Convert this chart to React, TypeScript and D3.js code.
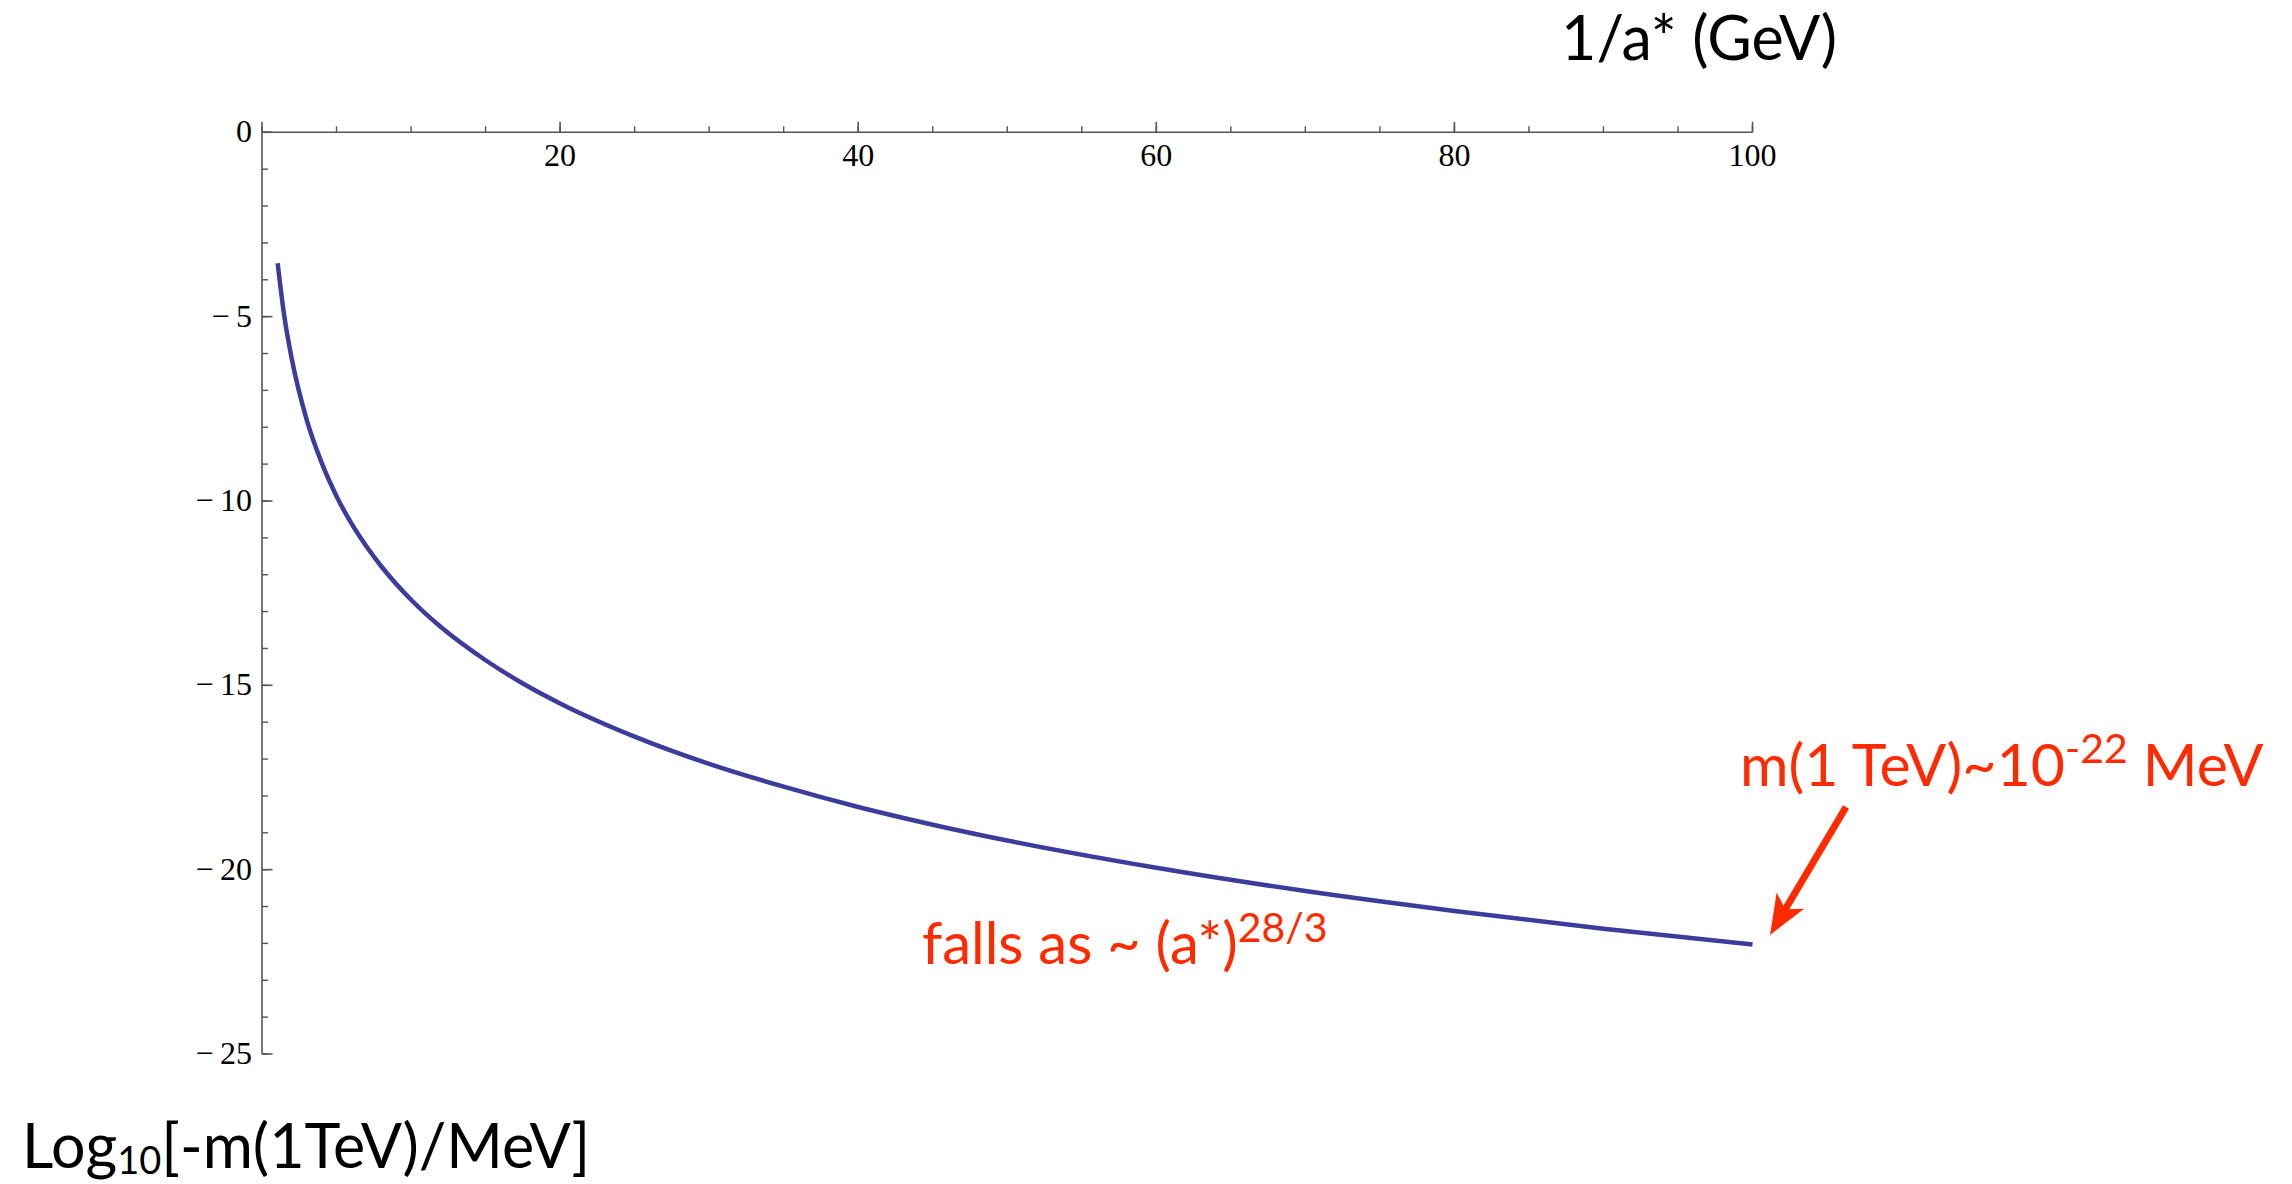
import React from 'react';
import * as d3 from 'd3';

// Curve: x = 1/a* (GeV), y = Log10[-m(1TeV)/MeV]
const xValues = [1.05, 1.5, 2, 3, 4, 5, 6, 7, 8, 10, 12, 15, 17.5, 20, 25, 30, 35, 40, 45, 50, 60, 70, 80, 90, 100];
const yValues = [-3.55, -5.0, -6.15, -7.8, -8.96, -9.87, -10.61, -11.23, -11.77, -12.68, -13.42, -14.32, -14.95, -15.49, -16.39, -17.13, -17.75, -18.3, -18.78, -19.21, -19.95, -20.58, -21.12, -21.6, -22.03];

const xMajorTicks = [0, 20, 40, 60, 80, 100];
const xTickLabels = ['', '20', '40', '60', '80', '100'];
const yMajorTicks = [0, -5, -10, -15, -20, -25];
const yTickLabels = ['0', '\u2212\u20095', '\u2212\u200910', '\u2212\u200915', '\u2212\u200920', '\u2212\u200925'];

const W = 2292;
const H = 1184;

export default function App() {
  const x = d3.scaleLinear().domain([0, 100]).range([262, 1752.5]);
  const y = d3.scaleLinear().domain([0, -25]).range([132.3, 1054]);

  const pts: [number, number][] = xValues.map((v, i) => [v, yValues[i]]);
  const line = d3
    .line<[number, number]>()
    .x((d) => x(d[0]))
    .y((d) => y(d[1]))
    .curve(d3.curveMonotoneX);

  const xMinor = x.ticks(20);
  const yMinor = y.ticks(25);

  const axisColor = '#555';
  const serif = '"Liberation Serif", "Times New Roman", serif';
  const sans = 'Lato, "Noto Sans", sans-serif';
  const red = '#ff2a00';

  // arrow geometry (annotation)
  const ax0 = 1846, ay0 = 807, ax1 = 1770, ay1 = 935;
  const dx = ax1 - ax0, dy = ay1 - ay0;
  const len = Math.hypot(dx, dy);
  const ux = dx / len, uy = dy / len;
  const hl = 40, hw = 16;
  const bx = ax1 - ux * hl, by = ay1 - uy * hl;
  const px = -uy, py = ux;
  const head = `M${ax1},${ay1} L${bx + px * hw},${by + py * hw} L${ax1 - ux * (hl - 10)},${ay1 - uy * (hl - 10)} L${bx - px * hw},${by - py * hw} Z`;

  return (
    <svg
      width={W}
      height={H}
      style={{ position: 'absolute', left: 0, top: 0, background: '#fff' }}
    >
      {/* x axis */}
      <line x1={x(0)} x2={x(100)} y1={y(0)} y2={y(0)} stroke={axisColor} strokeWidth={1.6} />
      {xMinor.map((t) => (
        <line key={'xm' + t} x1={x(t)} x2={x(t)} y1={y(0)} y2={y(0) - 6} stroke={axisColor} strokeWidth={1.4} />
      ))}
      {xMajorTicks.map((t, i) => (
        <g key={'xM' + t}>
          <line x1={x(t)} x2={x(t)} y1={y(0)} y2={y(0) - 10.5} stroke={axisColor} strokeWidth={1.6} />
          <text x={x(t)} y={166} textAnchor="middle" fontFamily={serif} fontSize={32} fill="#000">
            {xTickLabels[i]}
          </text>
        </g>
      ))}

      {/* y axis */}
      <line x1={x(0)} x2={x(0)} y1={y(0)} y2={y(-25)} stroke={axisColor} strokeWidth={1.6} />
      {yMinor.map((t) => (
        <line key={'ym' + t} x1={x(0)} x2={x(0) + 6} y1={y(t)} y2={y(t)} stroke={axisColor} strokeWidth={1.4} />
      ))}
      {yMajorTicks.map((t, i) => (
        <g key={'yM' + t}>
          <line x1={x(0)} x2={x(0) + 10.5} y1={y(t)} y2={y(t)} stroke={axisColor} strokeWidth={1.6} />
          <text x={252} y={y(t) + 10} textAnchor="end" fontFamily={serif} fontSize={32} fill="#000">
            {yTickLabels[i]}
          </text>
        </g>
      ))}

      {/* curve */}
      <path d={line(pts) || ''} fill="none" stroke="#3c3c9c" strokeWidth={4.5} />

      {/* axis titles */}
      <text x={1837} y={60} textAnchor="end" fontFamily={sans} fontSize={61} fill="#000">
        1/a* (GeV)
      </text>
      <text x={22} y={1168} fontFamily={sans} fontSize={61} fill="#000">
        Log<tspan fontSize={38} dy={6}>10</tspan>
        <tspan dy={-6}>[-m(1TeV)/MeV]</tspan>
      </text>

      {/* annotations */}
      <text x={922} y={964} fontFamily={sans} fontSize={58} fill={red}>
        falls as ~ (a*)<tspan fontSize={41} dy={-22}>28/3</tspan>
      </text>
      <text x={1740} y={786} fontFamily={sans} fontSize={59} fill={red}>
        m(1 TeV)~10<tspan fontSize={41} dy={-23}>-22</tspan>
        <tspan dy={23}> MeV</tspan>
      </text>
      <line x1={ax0} y1={ay0} x2={ax1 - ux * 25} y2={ay1 - uy * 25} stroke={red} strokeWidth={7} />
      <path d={head} fill={red} />
    </svg>
  );
}
